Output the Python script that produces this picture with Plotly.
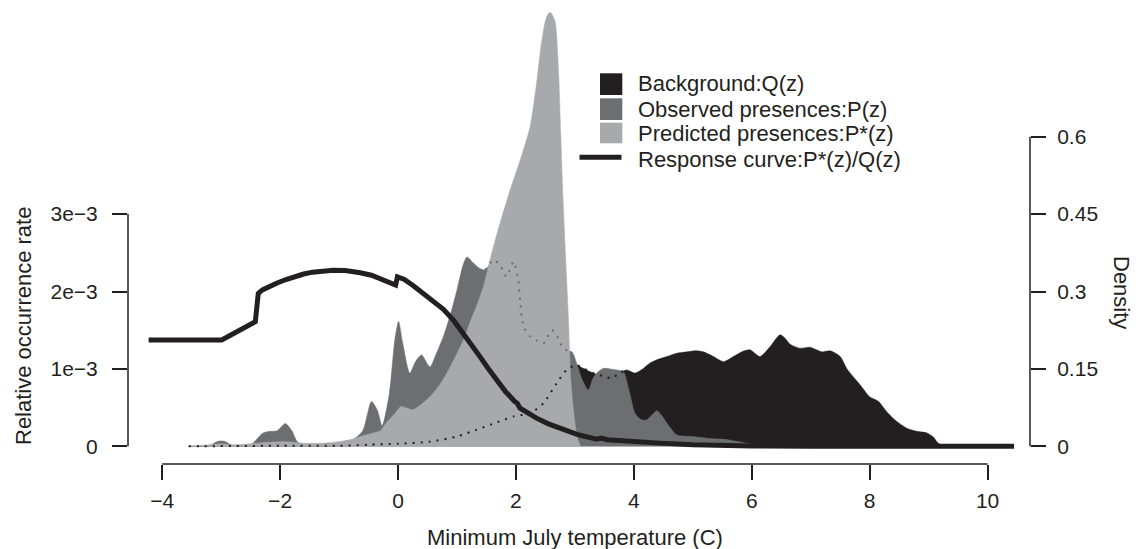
import plotly.graph_objects as go

# ---------------- data ----------------
# Background Q(z) density
q_x = [-3.55, -2.0, -1.0, -0.5, 0.0, 0.54, 1.0, 1.33, 1.67, 1.96, 2.24, 2.47, 2.69, 2.86, 3.03,
       3.09, 3.20, 3.35, 3.48, 3.62, 3.77, 3.88, 4.02, 4.15, 4.27, 4.40, 4.56, 4.72, 4.90, 5.05,
       5.18, 5.35, 5.52, 5.69, 5.85, 5.97, 6.14, 6.31, 6.48, 6.56, 6.65, 6.82, 6.99, 7.10, 7.19,
       7.33, 7.50, 7.61, 7.72, 7.84, 8.0, 8.15, 8.29, 8.43, 8.63, 8.80, 8.97, 9.08, 9.14, 9.22, 9.3]
q_d = [0.0, 0.001, 0.001, 0.003, 0.005, 0.009, 0.019, 0.032, 0.046, 0.058, 0.064, 0.084, 0.122, 0.148, 0.158,
       0.154, 0.148, 0.140, 0.136, 0.132, 0.143, 0.148, 0.142, 0.150, 0.161, 0.168, 0.174, 0.180, 0.183, 0.185,
       0.183, 0.174, 0.164, 0.174, 0.184, 0.187, 0.174, 0.193, 0.216, 0.210, 0.198, 0.190, 0.192, 0.187, 0.183,
       0.185, 0.174, 0.151, 0.135, 0.119, 0.096, 0.087, 0.067, 0.051, 0.035, 0.029, 0.026, 0.018, 0.009, 0.002, 0.0]

# Observed presences P(z) density
p_x = [-3.55, -3.2, -3.05, -2.95, -2.8, -2.5, -2.3, -2.17, -2.05, -1.91, -1.8, -1.7, -1.5, -1.1, -0.95,
       -0.8, -0.6, -0.45, -0.35, -0.27, -0.15, -0.05, 0.01, 0.08, 0.2, 0.3, 0.40, 0.54, 0.65, 0.77,
       0.9, 1.0, 1.1, 1.17, 1.28, 1.38, 1.48, 1.62, 1.73, 1.84, 1.96, 2.04, 2.07, 2.13, 2.24,
       2.35, 2.47, 2.61, 2.72, 2.78, 2.88, 2.95, 3.03, 3.12, 3.23, 3.30, 3.37, 3.48, 3.6, 3.71,
       3.82, 3.93, 4.02, 4.12, 4.22, 4.30, 4.39, 4.47, 4.56, 4.73, 5.0, 5.3, 5.57, 5.91, 6.2]
p_d = [0.0, 0.002, 0.010, 0.010, 0.002, 0.003, 0.025, 0.029, 0.030, 0.044, 0.030, 0.008, 0.002, 0.003, 0.008,
       0.010, 0.030, 0.087, 0.070, 0.040, 0.100, 0.210, 0.242, 0.200, 0.142, 0.165, 0.177, 0.154, 0.180, 0.213,
       0.260, 0.303, 0.350, 0.367, 0.355, 0.345, 0.342, 0.361, 0.351, 0.329, 0.358, 0.322, 0.284, 0.232, 0.213,
       0.205, 0.200, 0.225, 0.209, 0.193, 0.185, 0.183, 0.161, 0.130, 0.109, 0.130, 0.142, 0.151, 0.150, 0.148,
       0.145, 0.103, 0.064, 0.052, 0.051, 0.060, 0.069, 0.060, 0.045, 0.022, 0.019, 0.015, 0.013, 0.006, 0.0]

# Predicted presences P*(z) density
ps_x = [-3.55, -3.3, -3.0, -2.8, -2.5, -2.2, -1.9, -1.6, -1.3, -1.0, -0.8, -0.64, -0.45, -0.30, -0.2,
        -0.05, 0.05, 0.15, 0.26, 0.4, 0.54, 0.7, 0.83, 1.0, 1.11, 1.22, 1.33, 1.45, 1.56, 1.65,
        1.75, 1.90, 2.07, 2.24, 2.35, 2.44, 2.52, 2.58, 2.66, 2.72, 2.76, 2.80, 2.85, 2.89, 2.93,
        2.97, 3.02, 3.06, 3.10]
ps_d = [0.0, 0.002, 0.005, 0.003, 0.005, 0.008, 0.009, 0.006, 0.006, 0.009, 0.013, 0.019, 0.025, 0.030, 0.045,
        0.064, 0.077, 0.074, 0.071, 0.082, 0.096, 0.118, 0.142, 0.180, 0.206, 0.240, 0.271, 0.310, 0.361, 0.400,
        0.440, 0.496, 0.554, 0.619, 0.703, 0.787, 0.832, 0.841, 0.825, 0.735, 0.606, 0.477, 0.348, 0.250, 0.130,
        0.077, 0.030, 0.010, 0.0]

# Response curve P*(z)/Q(z) (relative occurrence rate)
r_x = [-4.23, -2.99, -2.42, -2.37, -2.3, -2.2, -2.05, -1.9, -1.75, -1.6, -1.45, -1.3, -1.1, -0.9, -0.75,
       -0.64, -0.45, -0.30, -0.15, -0.04, -0.01, 0.1, 0.25, 0.43, 0.6, 0.77, 0.95, 1.11, 1.25, 1.39,
       1.53, 1.67, 1.82, 1.98, 2.02, 2.07, 2.2, 2.35, 2.55, 2.80, 3.05, 3.37, 3.45, 3.55, 3.75,
       4.0, 4.44, 5.0, 5.5, 6.0, 7.0, 10.45]
r_y = [1.374e-3, 1.374e-3, 1.61e-3, 1.975e-3, 2.02e-3, 2.06e-3, 2.11e-3, 2.155e-3, 2.195e-3, 2.226e-3, 2.25e-3, 2.265e-3, 2.275e-3, 2.27e-3, 2.258e-3,
       2.243e-3, 2.21e-3, 2.17e-3, 2.12e-3, 2.084e-3, 2.19e-3, 2.16e-3, 2.08e-3, 1.97e-3, 1.87e-3, 1.77e-3, 1.62e-3, 1.46e-3, 1.31e-3, 1.159e-3,
       1.005e-3, 0.858e-3, 0.71e-3, 0.578e-3, 0.56e-3, 0.493e-3, 0.43e-3, 0.364e-3, 0.29e-3, 0.213e-3, 0.15e-3, 0.093e-3, 0.105e-3, 0.085e-3, 0.072e-3,
       0.06e-3, 0.041e-3, 0.02e-3, 0.008e-3, 0.003e-3, 0.001e-3, 0.0]

x_ticks = [-4, -2, 0, 2, 4, 6, 8, 10]
rate_ticks = [0, 1e-3, 2e-3, 3e-3]
rate_labels = ["0", "1e\u22123", "2e\u22123", "3e\u22123"]
dens_ticks = [0, 0.15, 0.3, 0.45, 0.6]
dens_labels = ["0", "0.15", "0.3", "0.45", "0.6"]

legend_labels = ["Background:Q(z)", "Observed presences:P(z)",
                 "Predicted presences:P*(z)", "Response curve:P*(z)/Q(z)"]

# ---------------- style / layout ----------------
BLACK = "#231f20"
DARK = "#6d6e71"
LIGHT = "#a7a9ac"
FONT = "Liberation Sans, Arial, Helvetica, sans-serif"

OFF = 8                      # default page margin around the plot div
W, H = 1139 - OFF, 549 - OFF
# plot area in page pixels
P_LEFT, P_RIGHT, P_TOP, P_BOTTOM = 128, 1030, 10, 464
ML = P_LEFT - OFF
MR = W - (P_RIGHT - OFF)
MT = P_TOP - OFF
MB = H - (P_BOTTOM - OFF)
PW, PH = P_RIGHT - P_LEFT, P_BOTTOM - P_TOP


def px(xp):
    return (xp - P_LEFT) / PW


def py(yp):
    return (P_BOTTOM - yp) / PH


SPL = dict(shape="spline", smoothing=0.7)

fig = go.Figure()
fig.add_trace(go.Scatter(x=q_x, y=q_d, yaxis="y", mode="lines", fill="tozeroy",
                         fillcolor=BLACK, line=dict(color=BLACK, width=0.5, **SPL),
                         showlegend=False, hoverinfo="skip"))
fig.add_trace(go.Scatter(x=p_x, y=p_d, yaxis="y", mode="lines", fill="tozeroy",
                         fillcolor=DARK, line=dict(color=DARK, width=0.5, **SPL),
                         showlegend=False, hoverinfo="skip"))
fig.add_trace(go.Scatter(x=ps_x, y=ps_d, yaxis="y", mode="lines", fill="tozeroy",
                         fillcolor=LIGHT, line=dict(color=LIGHT, width=0.5, **SPL),
                         showlegend=False, hoverinfo="skip"))
# hidden outlines drawn dotted (only where covered by other densities)
qi1 = q_x.index(3.88) + 1
fig.add_trace(go.Scatter(x=q_x[:qi1], y=q_d[:qi1], yaxis="y", mode="lines",
                         line=dict(color=BLACK, width=2, dash="2px,6px", **SPL),
                         showlegend=False, hoverinfo="skip"))
pi0 = p_x.index(1.48)
pi1 = p_x.index(2.95) + 1
fig.add_trace(go.Scatter(x=p_x[pi0:pi1], y=p_d[pi0:pi1], yaxis="y", mode="lines",
                         line=dict(color=DARK, width=2, dash="2px,6px", **SPL),
                         showlegend=False, hoverinfo="skip"))
# response curve on the left (overlay) axis
fig.add_trace(go.Scatter(x=r_x, y=r_y, yaxis="y2", mode="lines",
                         line=dict(color=BLACK, width=5),
                         showlegend=False, hoverinfo="skip"))

# data->page pixel calibration
x0px, xscale = 398.0, 58.957
y0px, rscale, dscale = 446.3, 77.4 / 1e-3, 516.0
x_range = [(P_LEFT - x0px) / xscale, (P_RIGHT - x0px) / xscale]
d_range = [(y0px - P_BOTTOM) / dscale, (y0px - P_TOP) / dscale]
r_range = [(y0px - P_BOTTOM) / rscale, (y0px - P_TOP) / rscale]

tickfont = dict(family=FONT, size=21, color=BLACK)
common = dict(ticks="outside", ticklen=15, tickwidth=1.5, tickcolor=BLACK,
              showline=False, showgrid=False, zeroline=False, tickfont=tickfont)

fig.update_layout(
    width=W, height=H,
    margin=dict(l=ML, r=MR, t=MT, b=MB, pad=0),
    paper_bgcolor="white", plot_bgcolor="white",
    font=dict(family=FONT, color=BLACK),
    xaxis=dict(range=x_range, tickvals=x_ticks, ticklabelstandoff=3, **common),
    yaxis=dict(range=d_range, side="right", tickvals=dens_ticks, ticktext=dens_labels,
               ticklabelstandoff=7, **common),
    yaxis2=dict(range=r_range, side="left", overlaying="y", tickvals=rate_ticks, ticktext=rate_labels,
                ticklabelstandoff=10, **common),
)

shapes = [
    dict(type="line", xref="x", yref="paper", x0=x_ticks[0], x1=x_ticks[-1], y0=0, y1=0,
         line=dict(color=BLACK, width=1.5)),
    dict(type="line", xref="paper", yref="y2", x0=0, x1=0, y0=rate_ticks[0], y1=rate_ticks[-1],
         line=dict(color=BLACK, width=1.5)),
    dict(type="line", xref="paper", yref="y", x0=1, x1=1, y0=dens_ticks[0], y1=dens_ticks[-1],
         line=dict(color=BLACK, width=1.5)),
]
# legend keys
for (t, b), col in zip([(73.3, 95.0), (98.3, 120.0), (122.7, 143.3)], [BLACK, DARK, LIGHT]):
    shapes.append(dict(type="rect", xref="paper", yref="paper", x0=px(600), x1=px(622.3),
                       y0=py(b), y1=py(t), fillcolor=col, line=dict(width=0), layer="above"))
shapes.append(dict(type="line", xref="paper", yref="paper", x0=px(579.5), x1=px(621.5),
                   y0=py(157.3), y1=py(157.3), line=dict(color=BLACK, width=5), layer="above"))

TF = dict(family=FONT, size=22, color=BLACK)
annotations = []
for lab, yc in zip(legend_labels, [83.3, 109.3, 133.3, 159.5]):
    annotations.append(dict(text=lab, xref="paper", yref="paper", x=px(636), y=py(yc),
                            xanchor="left", yanchor="middle", showarrow=False, font=TF))
annotations.append(dict(text="Relative occurrence rate", xref="paper", yref="paper",
                        x=px(23), y=py(326), textangle=-90, showarrow=False,
                        xanchor="center", yanchor="middle", font=TF))
annotations.append(dict(text="Density", xref="paper", yref="paper",
                        x=px(1122), y=py(292), textangle=90, showarrow=False,
                        xanchor="center", yanchor="middle", font=TF))
annotations.append(dict(text="Minimum July temperature (C)", xref="paper", yref="paper",
                        x=px(575), y=py(537), showarrow=False,
                        xanchor="center", yanchor="middle", font=TF))

fig.update_layout(shapes=shapes, annotations=annotations)
fig.write_html("out.html")
